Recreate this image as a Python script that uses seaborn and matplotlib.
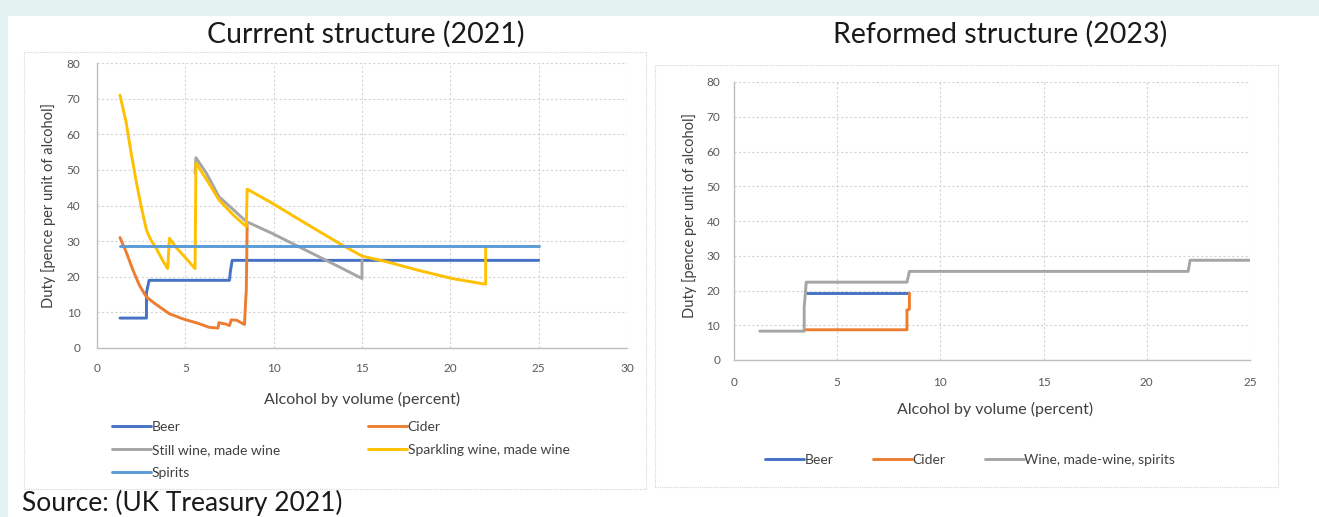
import numpy as np
import pandas as pd
import matplotlib
matplotlib.use("Agg")
import matplotlib.pyplot as plt
import seaborn as sns
from matplotlib.patches import Rectangle

# ---------------- data: current structure (2021) ----------------
beer_x = [1.3, 2.8, 2.8, 2.95, 7.5, 7.55, 7.65, 25.0]
beer_y = [8.4, 8.4, 15.5, 19.0, 19.0, 21.5, 24.6, 24.6]

cider_x = [1.3, 1.65, 2.0, 2.4, 2.8, 3.3, 4.1, 4.85, 5.8, 6.35, 6.85, 6.9, 7.3, 7.5, 7.6, 7.9, 8.35, 8.42, 8.45, 8.5]
cider_y = [31.0, 27.0, 22.3, 17.6, 14.3, 12.4, 9.6, 8.2, 6.8, 5.8, 5.6, 7.1, 6.7, 6.3, 7.9, 7.8, 6.6, 13.8, 16.0, 34.5]

still_x = [5.55, 5.6, 6.2, 6.9, 8.45, 9.9, 11.8, 13.7, 15.0, 15.0]
still_y = [49.0, 53.4, 49.0, 42.5, 35.5, 32.2, 27.5, 22.8, 19.5, 24.7]

spark_x = [1.3, 1.65, 1.93, 2.2, 2.5, 2.8, 3.05, 3.35, 3.7, 4.0, 4.1, 4.45, 5.05, 5.55, 5.6, 6.2,
           6.9, 7.7, 8.45, 8.5, 9.9, 11.8, 13.7, 15.0, 16.4, 18.2, 20.1, 22.0, 22.0]
spark_y = [71.0, 63.3, 54.8, 47.3, 39.7, 33.1, 30.3, 28.0, 24.7, 22.3, 30.8, 28.4, 25.1, 22.3, 51.9, 47.3,
           41.6, 37.4, 34.1, 44.6, 40.7, 35.0, 29.4, 25.8, 24.2, 21.8, 19.5, 17.9, 28.4]

spirits_x = [1.3, 25.0]
spirits_y = [28.7, 28.7]

# ---------------- data: reformed structure (2023) ----------------
r_beer_x = [3.55, 8.42]
r_beer_y = [19.2, 19.2]

r_cider_x = [3.45, 8.38, 8.38, 8.5, 8.5]
r_cider_y = [8.7, 8.7, 14.4, 14.6, 19.2]

r_wine_x = [1.25, 3.4, 3.4, 3.5, 8.38, 8.5, 22.0, 22.1, 25.0]
r_wine_y = [8.3, 8.3, 15.1, 22.4, 22.4, 25.5, 25.5, 28.7, 28.7]

left_names = ["Beer", "Cider", "Still wine, made wine", "Sparkling wine, made wine", "Spirits"]
right_names = ["Beer", "Cider", "Wine, made-wine, spirits"]

left_colors = ["#4472C4", "#ED7D31", "#A5A5A5", "#FFC000", "#5B9BD5"]
right_colors = ["#4472C4", "#ED7D31", "#A5A5A5"]

left_title = "Currrent structure (2021)"
right_title = "Reformed structure (2023)"
xlab = "Alcohol by volume (percent)"
ylab = "Duty [pence per unit of alcohol]"
source = "Source: (UK Treasury 2021)"


def long_df(names, xs, ys):
    parts = []
    for n, x, y in zip(names, xs, ys):
        parts.append(pd.DataFrame({"abv": x, "duty": y, "series": n}))
    return pd.concat(parts, ignore_index=True)


left_df = long_df(left_names, [beer_x, cider_x, still_x, spark_x, spirits_x],
                  [beer_y, cider_y, still_y, spark_y, spirits_y])
right_df = long_df(right_names, [r_beer_x, r_cider_x, r_wine_x],
                   [r_beer_y, r_cider_y, r_wine_y])

sns.set_style("white")
plt.rcParams["font.family"] = ["Lato", "DejaVu Sans"]

W, H = 1319, 517
fig = plt.figure(figsize=(W / 100, H / 100), dpi=100, facecolor="white")


def fx(px):
    return px / W


def fy(py):
    return 1 - py / H


# background decoration
bg = "#E1F2F1"
fig.patches.append(Rectangle((0, fy(16)), 1, 16 / H, transform=fig.transFigure, facecolor=bg,
                             edgecolor="none", zorder=-5))
fig.patches.append(Rectangle((0, 0), fx(8), 1, transform=fig.transFigure, facecolor=bg,
                             edgecolor="none", zorder=-5))
fig.patches.append(Rectangle((fx(24), fy(489)), fx(646 - 24), (489 - 52) / H, transform=fig.transFigure,
                             facecolor="none", edgecolor="#D6D6D6", linestyle=(0, (1, 1)), lw=0.8, zorder=-4))
fig.patches.append(Rectangle((fx(655), fy(487)), fx(1278 - 655), (487 - 65) / H, transform=fig.transFigure,
                             facecolor="none", edgecolor="#D6D6D6", linestyle=(0, (1, 1)), lw=0.8, zorder=-4))

axL = fig.add_axes([fx(97), fy(348), fx(627 - 97), (348 - 63) / H])
axR = fig.add_axes([fx(734), fy(360), fx(1250 - 734), (360 - 82) / H])

sns.lineplot(data=left_df, x="abv", y="duty", hue="series", hue_order=left_names,
             palette=left_colors, sort=False, estimator=None, lw=2.1, ax=axL, legend=False)
sns.lineplot(data=right_df, x="abv", y="duty", hue="series", hue_order=right_names,
             palette=right_colors, sort=False, estimator=None, lw=2.1, ax=axR, legend=False)

tick_col = "#595959"
for ax, xmax in ((axL, 30), (axR, 25)):
    ax.set_xlim(0, xmax)
    ax.set_ylim(0, 80)
    ax.set_xticks(np.arange(0, xmax + 1, 5))
    ax.set_yticks(np.arange(0, 81, 10))
    ax.set_facecolor("none")
    ax.grid(True, color="#D4D4D4", linestyle=(0, (2, 2)), lw=0.8)
    ax.set_axisbelow(True)
    for s in ("top", "right"):
        ax.spines[s].set_visible(False)
    for s in ("left", "bottom"):
        ax.spines[s].set_color("#BFBFBF")
        ax.spines[s].set_linewidth(1.0)
    ax.tick_params(length=0, labelsize=8.5, labelcolor=tick_col)
    ax.set_xlabel(xlab, fontsize=11.5, color="#404040")
    ax.set_ylabel(ylab, fontsize=10.5, color="#404040")

axL.tick_params(axis="x", pad=11)
axL.tick_params(axis="y", pad=12)
axR.tick_params(axis="x", pad=12)
axR.tick_params(axis="y", pad=10)

axL.xaxis.set_label_coords(0.5, (348 - 392) / 285)
axL.yaxis.set_label_coords((56 - 97) / 530, 0.5)
axR.xaxis.set_label_coords((995 - 734) / 516, (360 - 402) / 278)
axR.yaxis.set_label_coords((697 - 734) / 516, 0.52)

fig.text(fx(366), fy(43), left_title, ha="center", va="baseline", fontsize=20.5, color="#1a1a1a")
fig.text(fx(1000), fy(43), right_title, ha="center", va="baseline", fontsize=20.5, color="#1a1a1a")

# legends
lines = axL.get_lines()
h = {n: l for n, l in zip(left_names, lines[:5])}
legkw = dict(frameon=False, fontsize=10, handlelength=2.8, handletextpad=0.05, borderpad=0,
             borderaxespad=0, labelspacing=0.8, labelcolor="#404040")
legA = axL.legend([h["Beer"], h["Still wine, made wine"], h["Spirits"]],
                  ["Beer", "Still wine, made wine", "Spirits"], loc="upper left",
                  bbox_to_anchor=(fx(112), fy(421)), bbox_transform=fig.transFigure, **legkw)
axL.add_artist(legA)
axL.legend([h["Cider"], h["Sparkling wine, made wine"]],
           ["Cider", "Sparkling wine, made wine"], loc="upper left",
           bbox_to_anchor=(fx(368), fy(421)), bbox_transform=fig.transFigure, **legkw)

rlines = axR.get_lines()[:3]
axR.legend(rlines, right_names, loc="center", ncol=3, bbox_to_anchor=(fx(970), fy(460)),
           bbox_transform=fig.transFigure, frameon=False, fontsize=10, handlelength=2.8,
           handletextpad=0.05, columnspacing=2.85, labelcolor="#404040")

fig.text(fx(22), fy(511), source, ha="left", va="baseline", fontsize=19, color="#1a1a1a")

fig.savefig("out.png", dpi=100, facecolor="white")
